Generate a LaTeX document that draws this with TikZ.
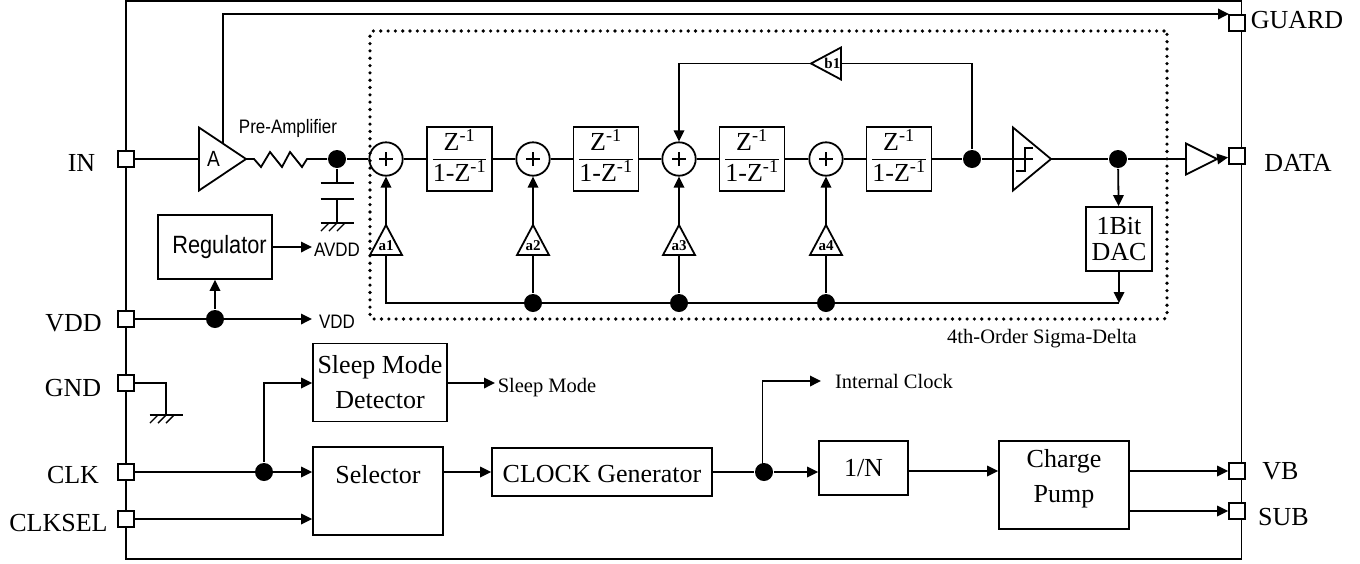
\documentclass[tikz,border=0pt]{standalone}
\usepackage{fontspec}
\setmainfont{Liberation Serif}
\newfontfamily\narrowfont[FakeStretch=0.87]{Liberation Sans}
\usetikzlibrary{arrows.meta,shapes.geometric}
\newcommand{\zfrac}{{\renewcommand{\arraystretch}{0}\setlength{\arrayrulewidth}{1.4pt}%
	\begin{tabular}{@{}c@{}}
	\rule[-8pt]{0pt}{23pt}Z\textsuperscript{-1}\\ \hline
	\rule[-7pt]{0pt}{24pt}1-Z\textsuperscript{-1}
	\end{tabular}}}
\tikzset{
	gnd/.pic={
		\draw[thin wire] (-16.5,0) -- (16.5,0);
		\foreach \i in {-8,0,8}
			\draw[thin wire] (\i,0) -- ++(-8,8);
	},
	thin wire/.style = {line width=1.4pt}
}

\begin{document}
\begin{tikzpicture}[x=1pt,y=-1pt,line width=1.8pt,>={Triangle[length=11pt,width=10.5pt]},
	every node/.style = {font=\fontsize{26}{35}\selectfont},
	pin node/.style = {rectangle,draw,fill=white,inner sep=0pt,minimum size=16pt},
	box node/.style = {rectangle,draw,inner sep=0pt,align=center},
	dot node/.style = {circle,fill,inner sep=0pt,minimum size=18pt},
	sum node/.style = {circle,draw,inner sep=0pt,minimum size=33.4pt,path picture={
		\draw ([xshift=-7pt]path picture bounding box.center) -- ([xshift=7pt]path picture bounding box.center);
		\draw ([yshift=-7pt]path picture bounding box.center) -- ([yshift=7pt]path picture bounding box.center);}},
	z node/.style = {box node,minimum width=65pt,minimum height=64pt},
	tri node/.style = {isosceles triangle,isosceles triangle stretches,draw,inner sep=0pt,outer sep=0pt,anchor=apex},
	amp node/.style = {tri node,minimum width=63pt,minimum height=47pt},
	gain node/.style = {tri node,shape border rotate=90,minimum width=32pt,minimum height=30pt},
	gain text/.style = {inner sep=0pt,font=\fontsize{15}{15}\selectfont\bfseries},
	pin text/.style = {anchor=base,inner sep=0pt},
	sans text/.style = {anchor=base,inner sep=0pt,font=\fontsize{19.5}{20}\selectfont\narrowfont},
	small text/.style = {anchor=base,inner sep=0pt,font=\fontsize{20.5}{21}\selectfont}]
	\useasboundingbox (0,0) rectangle (1360,563);
	\node[draw,minimum width=1115.5pt,minimum height=558pt,inner sep=0pt] at (683.75,280) (chip) {};
	\node[draw,line width=3.6pt,line cap=round,dash pattern=on 0pt off 7.32pt,rounded corners=3pt,
		inner sep=0pt,minimum width=797pt,minimum height=288pt] at (768.5,175) (sd) {};

	\node[pin node] at (126,159) (in) {};
	\node[pin node] at (126,319) (vdd) {};
	\node[pin node] at (126,383) (gnd) {};
	\node[pin node] at (126,472) (clk) {};
	\node[pin node] at (126,519) (clksel) {};
	\node[pin node] at (1237,23) (guard) {};
	\node[pin node] at (1237,156) (data) {};
	\node[pin node] at (1237,471) (vb) {};
	\node[pin node] at (1237,511) (sub) {};

	\node[pin text] at (81.5,171) (tin) {IN};
	\node[pin text] at (73.5,331) (tvdd) {VDD};
	\node[pin text] at (73,396) (tgnd) {GND};
	\node[pin text] at (73,483) (tclk) {CLK};
	\node[pin text] at (58.5,531) (tclksel) {CLKSEL};
	\node[pin text] at (1297,28) (tguard) {GUARD};
	\node[pin text] at (1298,171) (tdata) {DATA};
	\node[pin text] at (1280.5,479) (tvb) {VB};
	\node[pin text] at (1283.5,525) (tsub) {SUB};

	\node[amp node,font=\fontsize{22}{22}\selectfont\narrowfont] at (246,159) (amp) {A};
	\node[dot node] at (337,159) (d1) {};
	\node[sum node] at (386,159) (s1) {};
	\node[sum node] at (533,159) (s2) {};
	\node[sum node] at (679,159) (s3) {};
	\node[sum node] at (826,159) (s4) {};
	\node[z node] at (459.5,159) (z1) {\zfrac};
	\node[z node] at (606,159) (z2) {\zfrac};
	\node[z node] at (752,159) (z3) {\zfrac};
	\node[z node] at (899,159) (z4) {\zfrac};
	\node[dot node] at (972,159) (d2) {};
	\node[amp node,minimum height=38pt] at (1051,159) (qt) {};
	\node[dot node] at (1118,159) (d3) {};
	\node[amp node,minimum width=31pt,minimum height=31pt] at (1217,159) (buf) {};
	\node[box node,minimum width=66pt,minimum height=64pt,font=\fontsize{26}{26}\selectfont] at (1119,239) (dac) {1Bit\\DAC};
	\node[tri node,shape border rotate=180,minimum width=32pt,minimum height=30pt,
		label={[gain text,xshift=1pt]center:b1}] at (811,63.5) (b1) {};
	\node[gain node,label={[gain text]center:a1}] at (386,225) (a1) {};
	\node[gain node,label={[gain text]center:a2}] at (533,225) (a2) {};
	\node[gain node,label={[gain text]center:a3}] at (679,225) (a3) {};
	\node[gain node,label={[gain text]center:a4}] at (826,225) (a4) {};
	\node[dot node] at (533,303) (d4) {};
	\node[dot node] at (679,303) (d5) {};
	\node[dot node] at (826,303) (d6) {};
	\coordinate (bus) at (1119,303);

	\node[box node,minimum width=114pt,minimum height=64pt,font=\fontsize{25}{25}\selectfont\narrowfont] at (215,247) (reg) {\hspace{9pt}Regulator};
	\node[dot node] at (215,319) (d7) {};
	\node[box node,minimum width=134pt,minimum height=78pt] at (380,382.5) (sleep) {Sleep Mode\\Detector};
	\node[dot node] at (264,472) (d8) {};
	\node[box node,minimum width=130pt,minimum height=88pt] at (378,491) (sel) {Selector\\[-1pt]\mbox{}};
	\node[box node,minimum width=220pt,minimum height=48pt,text height=22pt] at (602,472) (clkgen) {CLOCK Generator};
	\node[dot node] at (764,472) (d9) {};
	\node[box node,minimum width=89pt,minimum height=54pt] at (863.5,468) (div) {1/N};
	\node[box node,minimum width=130pt,minimum height=88pt] at (1064,485) (pump) {Charge\\Pump\\[-16pt]\mbox{}};

	\node[sans text] at (288,133) (tpre) {Pre-Amplifier};
	\node[sans text] at (337,256) (tavdd) {AVDD};
	\node[sans text] at (337,328) (tvdd2) {VDD};
	\node[small text] at (547,392) (tsleep) {Sleep Mode};
	\node[small text] at (894,388) (tclock) {Internal Clock};
	\node[small text] at (1042,343) (tsd) {4th-Order Sigma-Delta};

	\coordinate (atop) at (223,142.7);
	\coordinate (gd) at (1229,14);
	\coordinate (avdd) at (312,247);
	\coordinate (vdd2) at (312,319);
	\coordinate (slp) at (495,383);
	\coordinate (ick) at (821,381);

	\draw (in) -- (amp.lower side);
	\draw[->] (atop) |- (gd);
	\draw (amp.apex) -- ++(8,0) -- ++(7,8) -- ++(9,-15) -- ++(12,15) -- ++(8,-15) -- ++(12,15) -- (307,159) -- (d1);
	\draw (d1) -- (s1);
	\draw (s1) -- (z1);
	\draw (z1) -- (s2);
	\draw (s2) -- (z2);
	\draw (z2) -- (s3);
	\draw (s3) -- (z3);
	\draw (z3) -- (s4);
	\draw (s4) -- (z4);
	\draw (z4) -- (d2);
	\draw (d2) -- (qt.lower side);
	\draw (qt.lower side) -- ++(20,0);
	\draw (qt.lower side) ++(3,12) -- ++(9,0) -- ++(0,-23) -- ++(8,0);
	\draw (qt.apex) -- (d3);
	\draw (d3) -- (buf.lower side);
	\draw[->] (buf.apex) -- (data);
	\draw[->] (d3) -- (dac);
	\draw[->] (dac) -- (bus);
	\draw (bus) -| (a1.lower side);
	\draw (d4) -- (a2.lower side);
	\draw (d5) -- (a3.lower side);
	\draw (d6) -- (a4.lower side);
	\draw[->] (a1.apex) -- (s1);
	\draw[->] (a2.apex) -- (s2);
	\draw[->] (a3.apex) -- (s3);
	\draw[->] (a4.apex) -- (s4);
	\draw (d2) |- (b1.lower side);
	\draw[->] (b1.apex) -| (s3);
	\draw (d1) -- ++(0,24);
	\draw[thin wire] (320.5,183) -- (353.5,183);
	\draw[thin wire] (320.5,199) -- (353.5,199);
	\draw (337,199) -- (337,223);
	\pic at (337,223) {gnd};

	\draw[->] (reg) -- (avdd);
	\draw[->] (vdd) -- (vdd2);
	\draw[->] (d7) -- (reg);
	\draw (gnd) -| (166,415);
	\pic at (166,415) {gnd};
	\draw[->] (clk) -- (sel.west |- clk);
	\draw[->] (d8) |- (sleep.west |- gnd);
	\draw[->] (clksel) -- (sel.west |- clksel);
	\draw[->] (sleep.east |- slp) -- (slp);
	\draw[->] (sel.east |- clkgen) -- (clkgen);
	\draw (clkgen) -- (d9);
	\draw[->] (d9) -- (div.west |- d9);
	\draw[->] (762.5,472) |- (ick);
	\draw[->] (div.east |- vb) -- (pump.west |- vb);
	\draw[->] (pump.east |- vb) -- (vb);
	\draw[->] (pump.east |- sub) -- (sub);
	\end{tikzpicture}
\end{document}
